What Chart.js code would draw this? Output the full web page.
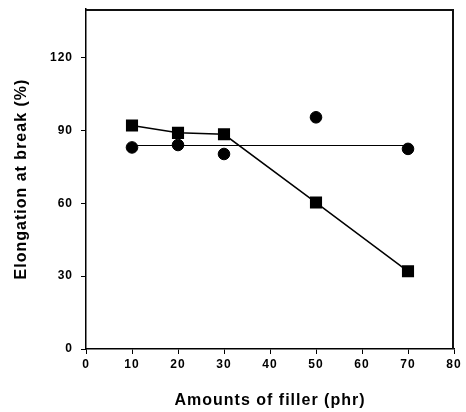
<!DOCTYPE html>
<html>
<head>
<meta charset="utf-8">
<script src="https://cdn.jsdelivr.net/npm/chart.js@4/dist/chart.umd.min.js"></script>
<style>
  html, body { margin: 0; padding: 0; background: #fff; }
  #wrap { width: 466px; height: 412px; }
</style>
</head>
<body>
<div id="wrap"><canvas id="elongChart" width="466" height="412"></canvas></div>
<script>
// Dados
const fillerAmounts = [10, 20, 30, 50, 70];
const squareValues = [92, 89, 88.4, 60.3, 32];
const circleValues = [83, 84, 80.3, 95.4, 82.4];
const circleFitLevel = 83.8;
const xTicks = [0, 10, 20, 30, 40, 50, 60, 70, 80];
const yTicks = [0, 30, 60, 90, 120];
const xMax = 80;
const yMax = 140;

const fontFamily = '"Liberation Sans", Arial, Helvetica, sans-serif';

// Moldura (topo e direita) e espaçamento entre letras
const frameBox = {
    id: 'frameBox',
    beforeDraw(chart) {
        chart.ctx.letterSpacing = '1px';
    },
    afterDraw(chart) {
        const c = chart.ctx;
        const a = chart.chartArea;
        c.save();
        c.strokeStyle = '#111';
        c.lineWidth = 2;
        c.beginPath();
        c.moveTo(a.left, a.top + 1);
        c.lineTo(a.right - 1, a.top + 1);
        c.lineTo(a.right - 1, a.bottom);
        c.stroke();
        c.restore();
    }
};

const ctx = document.getElementById('elongChart').getContext('2d');
new Chart(ctx, {
    type: 'scatter',
    data: {
        datasets: [
            {
                label: 'Square series',
                data: fillerAmounts.map((x, i) => ({ x: x, y: squareValues[i] })),
                showLine: true,
                borderColor: '#000',
                backgroundColor: '#000',
                borderWidth: 1.5,
                pointStyle: 'rect',
                pointRadius: 7.5,
                tension: 0
            },
            {
                label: 'Circle series',
                data: fillerAmounts.map((x, i) => ({ x: x, y: circleValues[i] })),
                showLine: false,
                borderColor: '#000',
                backgroundColor: '#000',
                pointStyle: 'circle',
                pointRadius: 5.8
            },
            {
                label: 'Circle fit',
                data: [
                    { x: fillerAmounts[0], y: circleFitLevel },
                    { x: fillerAmounts[fillerAmounts.length - 1], y: circleFitLevel }
                ],
                showLine: true,
                borderColor: '#000',
                borderWidth: 1.2,
                pointRadius: 0
            }
        ]
    },
    options: {
        responsive: false,
        animation: false,
        layout: { padding: { left: 0, right: 12, top: 5, bottom: 0 } },
        plugins: {
            legend: { display: false },
            tooltip: { enabled: false }
        },
        scales: {
            x: {
                type: 'linear',
                min: 0,
                max: xMax,
                afterFit: function(scale) { scale.height = 63; },
                afterBuildTicks: function(scale) {
                    scale.ticks = xTicks.map(v => ({ value: v }));
                },
                grid: {
                    drawOnChartArea: false,
                    drawTicks: true,
                    tickLength: 5,
                    color: '#000'
                },
                border: { color: '#000', width: 1.5 },
                ticks: {
                    color: '#000',
                    padding: 3,
                    maxRotation: 0,
                    font: { family: fontFamily, size: 12, weight: 'bold' }
                },
                title: {
                    display: true,
                    text: 'Amounts of filler (phr)',
                    color: '#000',
                    padding: { top: 0, bottom: 2 },
                    font: { family: fontFamily, size: 16, weight: 'bold' }
                }
            },
            y: {
                type: 'linear',
                min: 0,
                max: yMax,
                afterFit: function(scale) {
                    scale.width = 86;
                    scale.paddingTop = 0;
                    scale.paddingBottom = 0;
                },
                afterBuildTicks: function(scale) {
                    scale.ticks = yTicks.map(v => ({ value: v }));
                },
                grid: {
                    drawOnChartArea: false,
                    drawTicks: true,
                    tickLength: 5,
                    color: '#000'
                },
                border: { color: '#000', width: 1.5 },
                ticks: {
                    color: '#000',
                    padding: 8,
                    font: { family: fontFamily, size: 12, weight: 'bold' }
                },
                title: {
                    display: true,
                    text: 'Elongation at break (%)',
                    color: '#000',
                    padding: { top: 12, bottom: 0 },
                    font: { family: fontFamily, size: 16, weight: 'bold' }
                }
            }
        }
    },
    plugins: [frameBox]
});
</script>
</body>
</html>
